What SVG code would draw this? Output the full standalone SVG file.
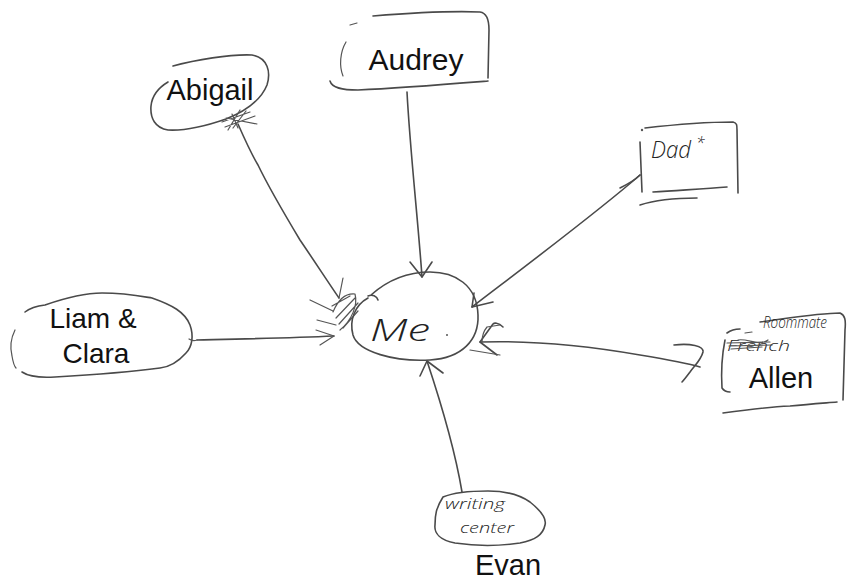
<svg xmlns="http://www.w3.org/2000/svg" width="849" height="581" viewBox="0 0 849 581">
  <style>
    .ink { fill: none; stroke: #4a4a4a; stroke-width: 1.6; stroke-linecap: round; stroke-linejoin: round; }
    .thin { fill: none; stroke: #555; stroke-width: 1.2; stroke-linecap: round; stroke-linejoin: round; }
    .label { font-family: "Liberation Sans", Arial, sans-serif; fill: #111; }
    .hand { font-family: "Open Sans", "DejaVu Sans", sans-serif; font-style: italic; font-weight: 300; fill: #222; }
  </style>
  <rect width="849" height="581" fill="#ffffff"/>

  <!-- connectors pointing into the centre -->
  <g id="connectors">
    <!-- Audrey -> Me -->
    <path class="ink" d="M 407 92 C 410 150, 418 220, 422 277"/>
    <path class="ink" d="M 410 262 L 422 277 L 432 262"/>
    <!-- Abigail -> Me -->
    <path class="ink" d="M 238 124 C 245 140, 252 155, 258 165 C 270 190, 285 215, 300 240 C 315 262, 330 285, 339 298"/>
    <path class="thin" d="M 339 298 L 343 278 M 310 300 L 333 311 M 317 320 L 336 325"/>
    <path class="thin" d="M 333 312 C 338 300, 345 293, 355 294 C 358 305, 352 320, 340 330 M 336 318 L 355 298 M 339 324 L 358 303 M 343 328 L 358 311 M 332 306 L 350 296"/>
    <!-- Liam & Clara -> Me -->
    <path class="ink" d="M 197 340 C 240 339, 290 338, 334 336"/>
    <path class="thin" d="M 316 330 L 334 336 L 320 345"/>
    <!-- Dad -> Me -->
    <path class="ink" d="M 640 175 C 600 210, 540 255, 472 307"/>
    <path class="ink" d="M 474 293 L 472 307 L 493 302"/>
    <!-- Allen -> Me -->
    <path class="ink" d="M 480 342 C 540 340, 600 348, 640 355 C 670 360, 690 364, 700 367"/>
    <path class="ink" d="M 503 327 C 498 322, 494 323, 493 324 L 480 342 L 497 355"/>
    <path class="ink" d="M 674 345 C 690 343, 704 346, 703 352 C 701 360, 695 365, 690 372 C 687 376, 684 380, 682 382"/>
    <path class="thin" d="M 500 325 L 487 327 C 482 333, 482 338, 482 342 M 470 350 L 500 355"/>
    <!-- Evan -> Me -->
    <path class="ink" d="M 462 492 C 455 450, 440 400, 427 361"/>
    <path class="ink" d="M 420 376 L 427 361 L 443 373"/>
  </g>

  <!-- centre node -->
  <g id="node-me">
    <path class="ink" d="M 368 296 C 372 294, 377 296, 378 300 M 371 295 C 390 278, 410 272, 430 272 C 455 272, 477 285, 478 315 C 479 340, 462 358, 430 360 C 395 362, 358 352, 353 335 C 349 320, 355 305, 368 298"/>
    <text class="hand" x="370" y="341" font-size="32" textLength="60" lengthAdjust="spacingAndGlyphs">Me</text>
    <circle cx="447" cy="335" r="1" fill="#555"/>
  </g>

  <g id="node-audrey">
    <path class="ink" d="M 373 16 C 410 13, 455 11, 480 12 C 488 13, 489 22, 489 30 L 488 78"/>
    <path class="ink" d="M 330 81 C 332 88, 342 90, 358 90 C 400 88, 450 84, 488 81"/>
    <path class="thin" d="M 346 42 C 340 52, 339 66, 343 76 M 350 25 L 357 23"/>
    <text class="label" x="416" y="70" font-size="30" text-anchor="middle">Audrey</text>
  </g>

  <g id="node-abigail">
    <path class="ink" d="M 173 66 C 195 60, 230 54, 252 55 C 268 58, 271 72, 267 85 C 261 100, 246 111, 226 119 C 206 126, 186 131, 168 130 C 155 128, 150 118, 151 106 C 152 96, 158 88, 168 82"/>
    <text class="label" x="210" y="100" font-size="29" text-anchor="middle" textLength="87" lengthAdjust="spacingAndGlyphs">Abigail</text>
    <path class="thin" d="M 222 122 L 250 112 M 225 127 L 255 116 M 228 130 L 240 110 M 233 128 L 246 111 M 226 118 L 257 124 M 232 114 L 238 128"/>
  </g>

  <g id="node-liam-clara">
    <path class="ink" d="M 25 312 C 30 308, 36 306, 45 305 C 65 298, 85 293, 102 293 C 125 293, 140 296, 152 298 C 172 305, 185 312, 190 325 C 194 336, 192 347, 186 353 C 178 362, 170 367, 160 368 C 130 372, 90 375, 55 377 C 40 378, 28 376, 22 372"/>
    <path class="thin" d="M 15 330 C 11 338, 10 348, 12 356 C 13 362, 14 366, 16 368"/>
    <path class="thin" d="M 189 339 C 192 341, 194 341, 197 340"/>
    <text class="label" x="93" y="328" font-size="28" text-anchor="middle">Liam &amp;</text>
    <text class="label" x="96" y="363" font-size="28" text-anchor="middle">Clara</text>
  </g>

  <g id="node-dad">
    <path class="ink" d="M 645 128 C 680 124, 710 122, 733 122 C 737 123, 737 125, 737 130 L 738 193"/>
    <path class="ink" d="M 640 142 L 642 192"/>
    <path class="ink" d="M 620 188 C 628 184, 635 180, 640 175"/>
    <path class="ink" d="M 653 192 C 680 190, 705 189, 727 187"/>
    <path class="ink" d="M 640 205 C 655 200, 675 198, 697 198"/>
    <circle cx="642" cy="130" r="1.2" fill="#555"/>
    <text class="hand" x="651" y="158" font-size="24" textLength="40" lengthAdjust="spacingAndGlyphs">Dad</text>
    <text class="hand" x="696" y="149" font-size="16">*</text>
  </g>

  <g id="node-allen">
    <path class="ink" d="M 727 333 C 731 330, 735 329, 740 329 M 760 322 C 790 318, 820 313, 840 313 C 845 315, 846 320, 845 330 L 843 400"/>
    <path class="ink" d="M 725 340 C 722 355, 721 372, 722 388 C 724 391, 727 392, 730 392"/>
    <path class="ink" d="M 723 413 C 745 410, 770 407, 790 406 C 810 404, 825 403, 837 402"/>
    <path class="thin" d="M 745 333 L 752 332"/>
    <text class="hand" x="763" y="328" font-size="16" textLength="64" lengthAdjust="spacingAndGlyphs">Roommate</text>
    <text class="hand" x="727" y="351" font-size="15" textLength="63" lengthAdjust="spacingAndGlyphs">French</text>
    <path class="thin" d="M 727 343 L 770 342 M 729 346 L 772 345 M 738 340 C 748 338, 758 347, 768 340 M 731 349 L 762 347"/>
    <text class="label" x="781" y="388" font-size="29" text-anchor="middle">Allen</text>
  </g>

  <g id="node-evan">
    <path class="ink" d="M 443 497 C 455 492, 470 491, 488 491 C 505 491, 520 495, 530 502 C 540 510, 547 518, 545 525 C 543 535, 535 540, 520 543 C 500 546, 475 546, 455 543 C 440 540, 434 533, 435 525 C 435 515, 436 508, 443 497"/>
    <text class="hand" x="445" y="509" font-size="15" textLength="60" lengthAdjust="spacingAndGlyphs">writing</text>
    <text class="hand" x="460" y="533" font-size="15" textLength="54" lengthAdjust="spacingAndGlyphs">center</text>
    <text class="label" x="508" y="575" font-size="29" text-anchor="middle">Evan</text>
  </g>
</svg>
